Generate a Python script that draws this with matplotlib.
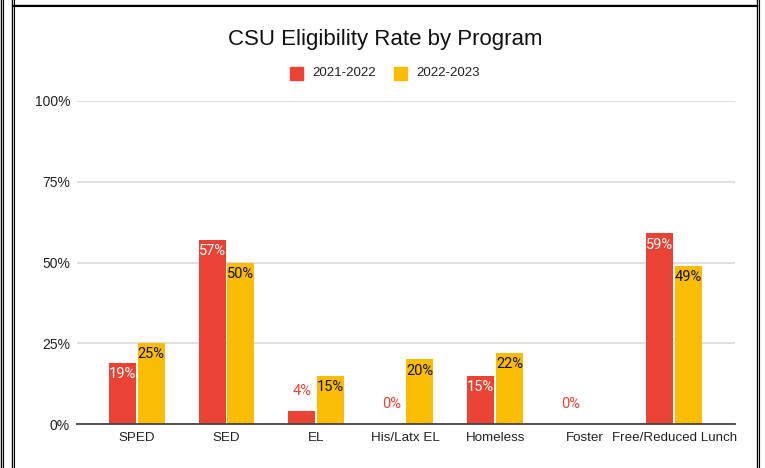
import numpy as np
import matplotlib
matplotlib.use("Agg")
import matplotlib.pyplot as plt
from matplotlib.lines import Line2D
from matplotlib.patches import Rectangle

# data
categories = ['SPED', 'SED', 'EL', 'His/Latx EL', 'Homeless', 'Foster', 'Free/Reduced Lunch']
rate_2122 = [19, 57, 4, 0, 15, 0, 59]
rate_2223 = [25, 50, 15, 20, 22, np.nan, 49]
series_names = ['2021-2022', '2022-2023']
y_ticks = [0, 25, 50, 75, 100]

RED = '#ea4335'
YELLOW = '#fbbc04'

plt.rcParams['font.family'] = ['Liberation Sans', 'DejaVu Sans']

fig = plt.figure(figsize=(7.65, 4.68), dpi=100)
ax = fig.add_axes([77 / 765, 44 / 468, 658 / 765, 323 / 468])

x = np.arange(len(categories))
w = 0.30
off = 0.16

for vals, dx, col, inside_col in [(rate_2122, -off, RED, 'white'),
                                  (rate_2223, off, YELLOW, '#111111')]:
    for xi, v in zip(x, vals):
        if np.isnan(v):
            continue
        ax.bar(xi + dx, v, w, color=col, zorder=3)
        if v >= 10:
            ax.annotate(f'{v:.0f}%', (xi + dx, v), xytext=(0, -8),
                        textcoords='offset points', ha='center', va='center',
                        fontsize=10.5, color=inside_col, family=['Roboto', 'DejaVu Sans'],
                        zorder=4)
        else:
            ax.annotate(f'{v:.0f}%', (xi + dx, v), xytext=(0, 14.4),
                        textcoords='offset points', ha='center', va='center',
                        fontsize=10.5, color=col, family=['Roboto', 'DejaVu Sans'],
                        zorder=4)

ax.set_xlim(-0.67, 6.68)
ax.set_ylim(0, 100)
ax.set_yticks(y_ticks)
ax.set_yticklabels([f'{t}%' for t in y_ticks], fontsize=10, color='#222222')
ax.set_xticks(x)
ax.set_xticklabels(categories, fontsize=9.6, color='#222222')
ax.tick_params(axis='both', length=0)
ax.tick_params(axis='y', pad=5)
ax.tick_params(axis='x', pad=6)
ax.grid(axis='y', color='#dadada', linewidth=1.2, zorder=0)
for s in ['top', 'right', 'left']:
    ax.spines[s].set_visible(False)
ax.spines['bottom'].set_color('#444444')
ax.spines['bottom'].set_linewidth(1.3)
ax.spines['bottom'].set_zorder(5)

fig.text(385 / 765, 1 - 39 / 468, 'CSU Eligibility Rate by Program',
         ha='center', va='center', fontsize=16, color='#111111')

# legend drawn by hand to match placement
leg_y = 1 - 73 / 468
for px, col, name in [(290, RED, series_names[0]), (394, YELLOW, series_names[1])]:
    fig.patches.append(Rectangle((px / 765, leg_y - 6.5 / 468), 13 / 765, 13 / 468,
                                 transform=fig.transFigure, color=col))
    fig.text((px + 22) / 765, leg_y, name, ha='left', va='center',
             fontsize=9.6, color='#222222')

# screenshot frame edges
def vline(px, lw=1.0):
    fig.add_artist(Line2D([px / 765, px / 765], [0, 1], color='black',
                          linewidth=lw, transform=fig.transFigure))

def hline(py, x0, x1, lw=1.0):
    fig.add_artist(Line2D([x0 / 765, x1 / 765], [1 - py / 468, 1 - py / 468],
                          color='black', linewidth=lw, transform=fig.transFigure))

vline(0.8)
vline(3.2, lw=0.8)
vline(11.5)
vline(13.5, lw=0.8)
hline(4.5, 11.5, 757)
hline(6.0, 11.5, 757, lw=0.8)
vline(756.5)
vline(758.5, lw=0.8)

fig.savefig('out.png', dpi=100)
